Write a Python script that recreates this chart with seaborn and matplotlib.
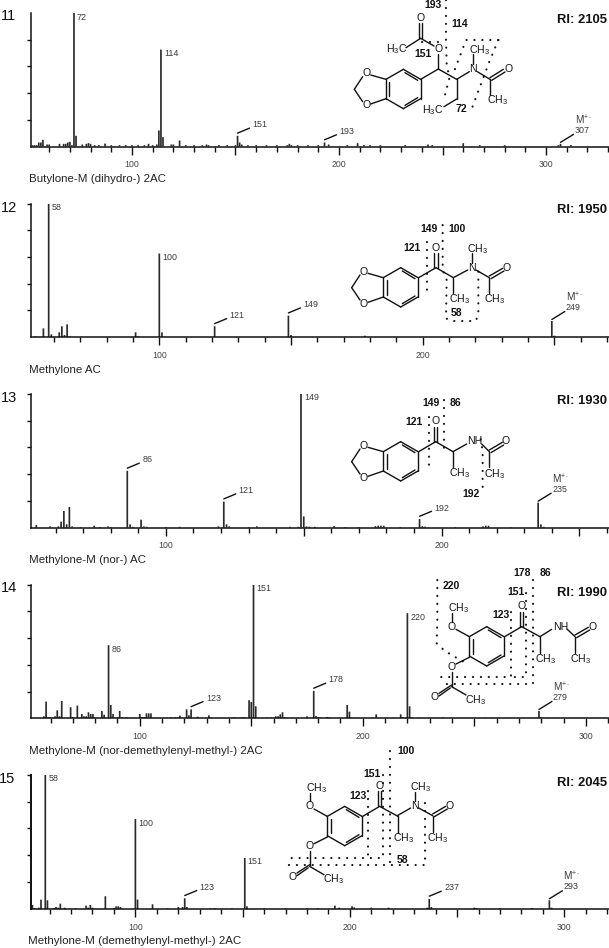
import matplotlib
matplotlib.use("Agg")
import matplotlib.pyplot as plt
from matplotlib.transforms import Affine2D
import seaborn as sns

W, H = 609, 948
sns.set_theme(style="ticks")
plt.rcParams["font.family"] = ["Liberation Sans", "DejaVu Sans"]
plt.rcParams["mathtext.fontset"] = "custom"
plt.rcParams["mathtext.rm"] = "Liberation Sans"
plt.rcParams["mathtext.default"] = "rm"

INK = "#2a2a2a"

# ---------- data: m/z and relative intensity of each spectrum ----------
mz_11 = [52, 53, 54, 55, 56, 57, 59, 60, 65, 67, 68, 69, 70, 71, 72, 73, 76, 78, 79, 80, 82, 84, 87, 90,
         94, 97, 100, 103, 106, 108, 110, 112, 113, 114, 115, 119, 120, 123, 126, 130, 134, 136, 137,
         142, 146, 150, 151, 152, 153, 156, 160, 165, 170, 175, 176, 177, 180, 185, 190, 193, 195,
         204, 209, 212, 215, 220, 232, 243, 245, 260, 268, 280, 306, 307, 312]
in_11 = [1, 1, 1, 3, 3, 5, 1.5, 1.5, 2, 2, 2, 3, 3.5, 1, 100, 8, 1.5, 2, 2.5, 2, 1, 1, 2.2, 1,
         1, 1, 1, 1, 1, 2, 1, 1.5, 12, 72.6, 7, 1.5, 1.5, 4.5, 1, 1, 1, 1.5, 1,
         1, 1, 1, 8, 3, 1.5, 1, 1, 1, 1, 1, 2, 1, 1, 1, 1, 3, 1.5,
         1, 2.5, 1, 1, 1, 1, 1.5, 1, 2.5, 1, 1, 1, 2, 1]

mz_12 = [53, 56, 58, 59, 62, 63, 64, 65, 66, 91, 92, 100, 101, 121, 149, 150, 178, 249, 250]
in_12 = [0.5, 6.5, 100, 2, 3.5, 8, 1.5, 9.5, 0.5, 3.5, 0.5, 62.5, 3.5, 8, 16, 1.5, 1, 12, 1]

mz_13 = [53, 58, 61, 62, 63, 64, 65, 66, 69, 74, 76, 79, 80, 86, 87, 88, 91, 92, 93, 100, 105, 119, 121,
         122, 123, 130, 133, 145, 148, 149, 150, 151, 152, 154, 161, 165, 170, 176, 177, 178, 179, 185,
         192, 193, 194, 205, 215, 216, 217, 225, 235, 236, 237]
in_13 = [2, 1, 1, 4.5, 12.5, 2.5, 15.5, 1, 0.5, 1.5, 0.5, 1, 0.5, 42.5, 2.5, 0.7, 6, 1, 0.7, 0.5, 0.7, 1, 19.5,
         2.5, 1, 0.5, 1, 0.7, 0.7, 100, 8.5, 1, 0.7, 0.7, 1.2, 0.5, 0.5, 1.2, 1.5, 1.5, 1.5, 0.5,
         6.5, 1.2, 0.8, 0.5, 1, 1.5, 1.5, 0.5, 18.7, 2.5, 0.7]

mz_14 = [57, 58, 59, 60, 62, 63, 64, 65, 69, 70, 72, 74, 75, 76, 77, 78, 79, 83, 84, 86, 87, 88, 90, 91, 92,
         94, 100, 101, 102, 103, 104, 105, 112, 114, 116, 117, 118, 121, 122, 123, 126, 131, 132, 142, 143,
         145, 146, 147, 149, 150, 151, 152, 157, 159, 161, 162, 163, 164, 165, 166, 175, 178, 179, 180, 181,
         184, 185, 193, 194, 195, 204, 206, 217, 218, 220, 221, 222, 225, 236, 255, 258, 279, 280, 283]
in_14 = [1.5, 12.5, 0.7, 0.7, 1.5, 6, 1.5, 13, 8.3, 1, 9.5, 3.2, 1.5, 1.5, 4.5, 3.2, 3.2, 5.5, 2.7, 54.7, 10, 3.2, 0.7, 5.5, 0.7,
         0.8, 3.2, 1, 1, 3.7, 3.7, 3.7, 0.5, 0.7, 0.7, 0.7, 2, 6.7, 2.2, 6.7, 1.2, 2.2, 0.5, 0.7, 0.5,
         0.5, 0.7, 0.7, 13.5, 12.2, 100, 9, 0.5, 0.5, 1.5, 1.5, 3, 4.5, 0.7, 0.5, 1.5, 20.5, 1.7, 0.7, 0.5,
         1, 0.7, 10, 5, 0.5, 0.5, 3, 3, 1, 78.7, 9, 0.7, 0.5, 0.7, 0.5, 0.5, 5.5, 0.7, 0.5]

mz_15 = [52, 53, 55, 56, 58, 59, 62, 63, 64, 65, 67, 72, 77, 78, 79, 80, 86, 90, 91, 92, 93, 100, 101, 108,
         115, 120, 122, 123, 124, 135, 137, 145, 151, 152, 160, 170, 180, 185, 193, 195, 201, 202, 210,
         218, 236, 237, 238, 258, 259, 270, 285, 293, 294]
in_15 = [3, 0.5, 1, 7, 100, 6.5, 0.7, 1.5, 1, 4, 1, 0.5, 2.5, 1, 3, 1, 9.5, 0.7, 2, 2, 1.5, 67, 7, 3.5,
         0.5, 1.5, 1.5, 8, 1.5, 0.5, 0.7, 0.5, 38, 2, 0.5, 0.5, 0.5, 0.7, 2.5, 1, 2, 1.2, 1,
         1, 1, 7.5, 1.5, 1, 0.7, 0.7, 0.7, 6.5, 1]

names = ["Butylone-M (dihydro-) 2AC", "Methylone AC", "Methylone-M (nor-) AC",
         "Methylone-M (nor-demethylenyl-methyl-) 2AC", "Methylone-M (demethylenyl-methyl-) 2AC"]
numbers = ["11", "12", "13", "14", "15"]
ri_texts = ["RI: 2105", "RI: 1950", "RI: 1930", "RI: 1990", "RI: 2045"]

# peaks labelled straight beside the bar / through a leader / molecular ion
inline_peaks = [[72, 114], [58, 100], [149], [86, 151, 220], [58, 100, 151]]
leader_peaks = [[151, 193], [121, 149], [86, 121, 192], [123, 178], [123, 237]]
ion_peaks = [307, 249, 235, 279, 293]

spectra = [(mz_11, in_11), (mz_12, in_12), (mz_13, in_13), (mz_14, in_14), (mz_15, in_15)]

# ---------- page layout in pixels ----------
tops = [13, 203.5, 394, 584.7, 774.7]
bases = [146.5, 337, 527.7, 718.3, 909]
x_lo = [51, 51.1, 50.9, 51, 51.1]
x_hi = [330.4, 270.7, 260.7, 310.4, 320.8]
name_y = [178.7, 370, 560.3, 751, 941.3]
num_y = [16, 207.7, 397.7, 588.3, 778.7]
ri_y = [20, 210, 401.5, 592.5, 782.5]
left_px = 30.5

fig = plt.figure(figsize=(W / 100, H / 100), dpi=100, facecolor="white")
overlay = fig.add_axes([0, 0, 1, 1], zorder=5)
overlay.set_xlim(0, W)
overlay.set_ylim(H, 0)
overlay.axis("off")
overlay.patch.set_alpha(0)

PX = 72 / 100  # points per pixel


def label(x, y, s, size=7.5, weight="normal", ha="center", color="#111111"):
    overlay.text(x, y, s, fontsize=size, fontweight=weight, ha=ha, va="center", color=color)


for i, (mz, inten) in enumerate(spectra):
    ax = fig.add_axes([left_px / W, 1 - bases[i] / H, 1 - left_px / W, (bases[i] - tops[i]) / H],
                      zorder=1)
    scale = (W - left_px) / (x_hi[i] - x_lo[i])
    sns.barplot(x=mz, y=inten, native_scale=True, width=1.7 / scale, color=INK, saturation=1,
                errorbar=None, linewidth=0, ax=ax)
    for bar in ax.patches:
        bar.set_snap(False)
    ax.set_xlim(x_lo[i], x_hi[i])
    ax.set_ylim(0, 100)
    ax.set_xlabel("")
    ax.set_ylabel("")
    ax.patch.set_alpha(0)
    sns.despine(ax=ax)
    ax.spines["left"].set_linewidth(1.4 if i == 4 else 1.1)
    ax.spines["left"].set_color("#111111")
    ax.spines["bottom"].set_linewidth(1.1)
    ax.spines["bottom"].set_color("#111111")

    majors = [v for v in range(100, 351, 50) if v <= x_hi[i]]
    minors = [v for v in range(60, 351, 10) if v <= x_hi[i] and v % 50 != 0]
    ax.set_xticks(majors)
    ax.set_xticklabels([str(v) if v % 100 == 0 else "" for v in majors])
    ax.set_xticks(minors, minor=True)
    ax.tick_params(axis="x", which="major", length=8 * PX, width=1.0, pad=5.5 * PX, labelsize=6.3,
                   color="#111111", labelcolor="#444444")
    ax.tick_params(axis="x", which="minor", length=5 * PX, width=1.0, color="#111111")
    ax.set_yticks([20, 40, 60, 80] if i == 0 else [20, 40, 60, 80, 100])
    ax.set_yticklabels([])
    ax.tick_params(axis="y", length=4 * PX, width=1.0, color="#111111")

    peak = dict(zip(mz, inten))
    lab = dict(fontsize=6.4, color="#3a3a3a", va="center", ha="left", textcoords="offset pixels")
    stroke = dict(arrowstyle="-", color="#111111", lw=1, shrinkA=0, shrinkB=0)


    def shifted(dx, dy):
        return ax.transData + Affine2D().translate(dx, dy)


    for m in inline_peaks[i]:
        ax.annotate(str(m), (m, peak[m]), xytext=(3, -4), **lab)
    for m in leader_peaks[i]:
        ax.annotate("", xy=(m, peak[m]), xycoords=shifted(0, 2.7),
                    xytext=(m, peak[m]), textcoords=shifted(12, 7.7), arrowprops=stroke)
        ax.annotate(str(m), (m, peak[m]), xytext=(15, 11), **lab)
    m = ion_peaks[i]
    ax.annotate("", xy=(m, peak[m]), xycoords=shifted(0, 1.5),
                xytext=(m, peak[m]), textcoords=shifted(13, 9.5), arrowprops=stroke)
    ax.annotate(str(m), (m, peak[m]), xytext=(14, 13.5), **lab)
    ion = dict(lab)
    ion["fontsize"] = 7.2
    ax.annotate(r"M$^{+\bullet}$", (m, peak[m]), xytext=(14, 23.5), **ion)

    label(29 if i < 4 else 28, name_y[i], names[i], size=8.25, ha="left", color="#222222")
    label(1 if i < 4 else -1, num_y[i], numbers[i], size=10.5, ha="left")
    label(607, ri_y[i], ri_texts[i], size=9.4, weight="bold", ha="right")


# ---------- structure drawings, given in zoomed-crop units (3x) ----------
def segs(ox, oy, lines, lw=1.0):
    for a, b, c, d in lines:
        overlay.plot([ox + a / 3, ox + c / 3], [oy + b / 3, oy + d / 3], color="#111111",
                     lw=lw, solid_capstyle="round")


def dots(ox, oy, path):
    overlay.plot([ox + p[0] / 3 for p in path], [oy + p[1] / 3 for p in path], color="#111111",
                 lw=1.5, ls=(0, (0.1, 3.7)), dash_capstyle="round")


def atoms(ox, oy, items, size=7.6, weight="normal"):
    for x, y, s in items:
        label(ox + x / 3, oy + y / 3, s, size=size, weight=weight)


def ring(ox, oy, tx, ty):
    pts = [(0, 0), (52, 30), (52, 88), (0, 118), (-52, 88), (-52, 30), (0, 0)]
    segs(ox, oy, [(tx + a[0], ty + a[1], tx + b[0], ty + b[1]) for a, b in zip(pts, pts[1:])])
    inner = [(5, 10, 43, 33), (5, 108, 43, 85), (-42, 37, -42, 81)]
    segs(ox, oy, [(tx + a, ty + b, tx + c, ty + d) for a, b, c, d in inner])


def dioxole(ox, oy, tx, ty):
    parts = [(-52, 30, -98, 17), (-52, 88, -98, 104), (-122, 22, -147, 60), (-147, 60, -122, 97)]
    segs(ox, oy, [(tx + a, ty + b, tx + c, ty + d) for a, b, c, d in parts])
    atoms(ox, oy, [(tx - 111, ty + 12, "O"), (tx - 111, ty + 108, "O")])


CH3 = r"CH$_3$"
H3C = r"H$_3$C"

# panel 11
ox, oy = 330, 0
ring(ox, oy, 220, 208)
dioxole(ox, oy, 220, 208)
segs(ox, oy, [(272, 238, 325, 207), (325, 207, 380, 238), (325, 207, 325, 162), (312, 138, 272, 115),
              (272, 115, 228, 143), (267, 115, 267, 70), (277, 115, 277, 70), (380, 238, 418, 215),
              (430, 192, 430, 162), (442, 215, 480, 238), (480, 233, 520, 208), (485, 241, 525, 216),
              (480, 238, 480, 285), (380, 238, 380, 297), (380, 297, 342, 320)])
atoms(ox, oy, [(325, 147, "O"), (272, 55, "O"), (200, 147, H3C), (430, 207, "N"), (448, 149, CH3),
               (536, 207, "O"), (502, 301, CH3), (307, 329, H3C)])
dots(ox, oy, [(348, 0), (348, 125), (350, 190), (358, 235), (345, 285)])
dots(ox, oy, [(275, 125), (345, 125)])
dots(ox, oy, [(505, 120), (408, 120), (372, 215)])
dots(ox, oy, [(505, 120), (478, 185), (420, 340)])
atoms(ox, oy, [(393, 327, "72"), (390, 73, "114"), (308, 15, "193"), (278, 162, "151")], size=7.5, weight="bold")

# panel 12
ox, oy = 330, 190
ring(ox, oy, 212, 233)
dioxole(ox, oy, 212, 233)
segs(ox, oy, [(266, 263, 318, 233), (313, 233, 313, 190), (323, 233, 323, 190), (318, 233, 370, 263),
              (370, 263, 370, 310), (370, 263, 413, 240), (425, 218, 425, 190), (438, 240, 478, 263),
              (478, 258, 518, 235), (483, 266, 522, 243), (478, 263, 478, 310)])
atoms(ox, oy, [(318, 173, "O"), (390, 326, CH3), (425, 233, "N"), (442, 176, CH3), (529, 233, "O"), (493, 326, CH3)])
dots(ox, oy, [(290, 155), (290, 320)])
dots(ox, oy, [(338, 105), (338, 240), (350, 270), (348, 385), (365, 393), (437, 393), (445, 375), (445, 235)])
atoms(ox, oy, [(297, 117, "149"), (381, 117, "100"), (247, 173, "121"), (380, 370, "58")], size=7.5, weight="bold")

# panel 13
ox, oy = 330, 380
ring(ox, oy, 212, 185)
dioxole(ox, oy, 212, 185)
segs(ox, oy, [(266, 215, 317, 185), (312, 185, 312, 142), (322, 185, 322, 142), (317, 185, 369, 215),
              (369, 215, 369, 262), (369, 215, 410, 192), (455, 192, 478, 215), (478, 210, 517, 187),
              (483, 218, 521, 195), (478, 215, 478, 262)])
atoms(ox, oy, [(317, 123, "O"), (388, 278, CH3), (433, 183, "NH"), (527, 183, "O"), (493, 283, CH3)])
dots(ox, oy, [(296, 110), (296, 272)])
dots(ox, oy, [(343, 60), (343, 225)])
dots(ox, oy, [(452, 178), (458, 215), (458, 343)])
atoms(ox, oy, [(303, 70, "149"), (377, 70, "86"), (253, 127, "121"), (424, 343, "192")], size=7.5, weight="bold")


def vanillyl(ox, oy):
    ring(ox, oy, 470, 170)
    segs(ox, oy, [(418, 200, 378, 178), (365, 155, 365, 130), (418, 262, 378, 282), (365, 305, 365, 350),
                  (365, 345, 327, 370), (361, 354, 327, 378), (365, 350, 408, 375), (524, 200, 575, 170),
                  (570, 170, 570, 125), (580, 170, 580, 125), (575, 170, 630, 200), (630, 200, 630, 250)])
    atoms(ox, oy, [(365, 170, "O"), (385, 114, CH3), (365, 290, "O"), (313, 382, "O"), (437, 389, CH3),
                   (575, 108, "O"), (647, 266, CH3)])


# panel 14
ox, oy = 330, 570
vanillyl(ox, oy)
segs(ox, oy, [(630, 200, 665, 178), (712, 178, 735, 200), (735, 195, 775, 172), (740, 203, 779, 180), (735, 200, 735, 250)])
atoms(ox, oy, [(692, 170, "NH"), (787, 170, "O"), (752, 266, CH3)])
dots(ox, oy, [(322, 30), (322, 150), (320, 220), (345, 243), (370, 258), (405, 278)])
dots(ox, oy, [(543, 125), (543, 320), (330, 320)])
dots(ox, oy, [(588, 70), (588, 320), (545, 320)])
dots(ox, oy, [(610, 30), (610, 343), (330, 343)])
atoms(ox, oy, [(364, 48, "220"), (575, 10, "178"), (645, 10, "86"), (558, 67, "151"), (512, 135, "123")],
      size=7.5, weight="bold")

# panel 15
ox, oy = 188, 749.7
vanillyl(ox, oy)
ox2, oy2 = 330, 758
segs(ox2, oy2, [(202, 173, 242, 150), (254, 130, 254, 102), (266, 150, 308, 173), (308, 168, 347, 145),
                (313, 176, 352, 153), (308, 173, 308, 222)])
atoms(ox2, oy2, [(254, 145, "N"), (271, 88, CH3), (358, 145, "O"), (323, 239, CH3)])
dots(ox2, oy2, [(115, 100), (115, 300)])
dots(ox2, oy2, [(158, 50), (158, 300), (-130, 300)])
dots(ox2, oy2, [(181, -20), (181, 322)])
dots(ox2, oy2, [(285, 135), (285, 322), (-130, 322)])
atoms(ox2, oy2, [(227, -22, "100"), (127, 47, "151"), (83, 115, "123"), (217, 305, "58")], size=7.5, weight="bold")

fig.savefig("out.png", dpi=100, facecolor="white")
